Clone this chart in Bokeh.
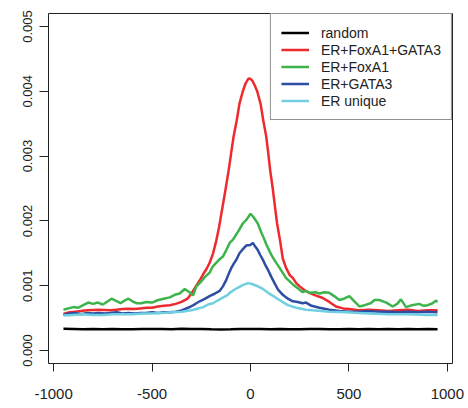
from bokeh.plotting import figure
from bokeh.models import Range1d, FixedTicker, Legend, LegendItem, NumeralTickFormatter
from bokeh.embed import file_html
from bokeh.resources import INLINE

# ---- data ----
x_ticks = [-1000, -500, 0, 500, 1000]
x_tick_labels = ["-1000", "-500", "0", "500", "1000"]
y_ticks = [0.0, 0.001, 0.002, 0.003, 0.004, 0.005]
y_tick_labels = ["0.000", "0.001", "0.002", "0.003", "0.004", "0.005"]

series_names = ["random", "ER+FoxA1+GATA3", "ER+FoxA1", "ER+GATA3", "ER unique"]

x_random = [-950, -900, -850, -800, -750, -700, -650, -600, -550, -500, -450, -400, -350, -300,
            -250, -200, -150, -100, -50, 0, 50, 100, 150, 200, 250, 300, 350, 400, 450, 500,
            550, 600, 650, 700, 750, 800, 850, 900, 950]
y_random = [0.000335, 0.000334, 0.000328, 0.000332, 0.000327, 0.000333, 0.000330, 0.000329,
            0.000334, 0.000331, 0.000333, 0.000330, 0.000335, 0.000332, 0.000333, 0.000328,
            0.000326, 0.000327, 0.000332, 0.000331, 0.000333, 0.000330, 0.000334, 0.000327,
            0.000329, 0.000333, 0.000332, 0.000328, 0.000330, 0.000333, 0.000329, 0.000331,
            0.000327, 0.000332, 0.000330, 0.000334, 0.000328, 0.000331, 0.000327]

x_fg = [-950, -920, -890, -860, -830, -800, -770, -740, -710, -680, -650, -620, -590, -560,
        -530, -500, -470, -440, -410, -380, -350, -320, -300, -275, -258, -240, -225, -208,
        -190, -175, -160, -143, -127, -111, -98, -86, -70, -56, -39, -25, -10, 0, 10, 20, 34,
        51, 65, 80, 90, 100, 113, 125, 135, 150, 164, 180, 200, 215, 232, 250, 275, 299, 330,
        367, 400, 434, 470, 500, 550, 600, 650, 700, 750, 800, 850, 900, 950]
y_fg = [0.000565, 0.00059, 0.0006, 0.00061, 0.00062, 0.000625, 0.00063, 0.000625, 0.00062,
        0.00063, 0.00064, 0.000645, 0.00064, 0.00065, 0.00066, 0.00066, 0.00068, 0.00069,
        0.0007, 0.00072, 0.00075, 0.0008, 0.00088, 0.001, 0.00108, 0.00118, 0.00125, 0.00135,
        0.0015, 0.00168, 0.0019, 0.0022, 0.00248, 0.00278, 0.00305, 0.0033, 0.00355, 0.00381,
        0.004, 0.00412, 0.0042, 0.00419, 0.00416, 0.0041, 0.004, 0.00381, 0.00355, 0.0033,
        0.00305, 0.00278, 0.0025, 0.0022, 0.00196, 0.0017, 0.00142, 0.00128, 0.00116, 0.00112,
        0.00104, 0.00099, 0.00093, 0.00089, 0.00085, 0.00081, 0.00075, 0.00068, 0.00065,
        0.00064, 0.00062, 0.00063, 0.00062, 0.00061, 0.00062, 0.00063, 0.00061, 0.00062,
        0.00062]

x_f = [-950, -925, -900, -875, -850, -824, -800, -775, -750, -730, -706, -685, -660, -640,
       -620, -600, -580, -554, -530, -500, -469, -440, -410, -385, -360, -334, -310, -292,
       -275, -258, -230, -208, -191, -160, -140, -123, -106, -89, -60, -39, -20, 0, 15, 37, 55,
       71, 80, 105, 125, 147, 180, 215, 240, 265, 282, 300, 330, 350, 375, 400, 425, 451, 475,
       502, 530, 553, 580, 610, 630, 654, 690, 722, 745, 764, 790, 820, 857, 880, 900, 925,
       941, 950]
y_f = [0.00063, 0.00065, 0.00067, 0.00066, 0.0007, 0.00074, 0.00072, 0.00074, 0.00071,
       0.00075, 0.0008, 0.00077, 0.00073, 0.00077, 0.0008, 0.00076, 0.00073, 0.00073, 0.00075,
       0.00074, 0.00078, 0.0008, 0.00082, 0.00086, 0.00088, 0.00095, 0.0009, 0.00085, 0.00099,
       0.00104, 0.00114, 0.0012, 0.0013, 0.0014, 0.00145, 0.00155, 0.00166, 0.00171, 0.00185,
       0.00196, 0.00202, 0.00211, 0.00206, 0.00196, 0.00182, 0.00171, 0.00164, 0.00148,
       0.00138, 0.00128, 0.00112, 0.00102, 0.00096, 0.0009, 0.00092, 0.00089, 0.0009, 0.00088,
       0.0009, 0.00089, 0.00084, 0.00078, 0.0008, 0.00084, 0.00075, 0.00068, 0.0007, 0.00073,
       0.00078, 0.00078, 0.00074, 0.00068, 0.00072, 0.00079, 0.00067, 0.0007, 0.00072,
       0.00069, 0.0007, 0.00073, 0.00077, 0.00075]

x_g = [-950, -920, -890, -860, -830, -800, -770, -740, -710, -680, -650, -620, -590, -560,
       -530, -500, -470, -440, -410, -380, -350, -317, -290, -275, -258, -230, -208, -180,
       -157, -140, -123, -110, -98, -85, -72, -56, -40, -22, 0, 12, 25, 37, 50, 63, 75, 88,
       105, 122, 140, 164, 190, 215, 240, 265, 282, 310, 350, 400, 451, 500, 550, 600, 650,
       700, 750, 800, 850, 900, 950]
y_g = [0.00055, 0.00057, 0.00058, 0.00056, 0.00058, 0.00057, 0.00058, 0.00057, 0.00058,
       0.00059, 0.00057, 0.00058, 0.00057, 0.00058, 0.00058, 0.00059, 0.00058, 0.00059,
       0.00059, 0.0006, 0.00062, 0.00066, 0.0007, 0.00073, 0.00076, 0.0008, 0.00084, 0.00088,
       0.00092, 0.00099, 0.00109, 0.00119, 0.00127, 0.00134, 0.0014, 0.0015, 0.00156, 0.00162,
       0.00163, 0.00166, 0.0016, 0.00155, 0.00147, 0.0014, 0.00132, 0.00125, 0.00114,
       0.00104, 0.00094, 0.00086, 0.0008, 0.00076, 0.00075, 0.00073, 0.00074, 0.00069,
       0.00066, 0.00063, 0.00061, 0.0006, 0.0006, 0.00061, 0.0006, 0.0006, 0.00059, 0.0006,
       0.00059, 0.0006, 0.00059]

x_u = [-950, -900, -850, -800, -750, -700, -650, -600, -550, -500, -450, -400, -350, -300,
       -275, -240, -216, -191, -150, -115, -106, -70, -40, -13, 4, 30, 63, 100, 147, 190, 232,
       282, 316, 400, 485, 550, 600, 700, 800, 900, 950]
y_u = [0.00054, 0.00055, 0.00056, 0.00055, 0.00055, 0.00056, 0.00056, 0.00056, 0.00057,
       0.00057, 0.00058, 0.00059, 0.0006, 0.00062, 0.00064, 0.00067, 0.00071, 0.00073,
       0.0008, 0.00086, 0.00089, 0.00096, 0.00101, 0.00104, 0.00103, 0.001, 0.00095, 0.00087,
       0.00078, 0.0007, 0.00066, 0.00063, 0.00062, 0.0006, 0.00059, 0.00058, 0.00057, 0.00056,
       0.00056, 0.00055, 0.00055]

colors = ["#000000", "#ee2a2e", "#3cb44b", "#2d4ea2", "#70cfe0"]

# ---- figure ----
p = figure(width=468, height=408, output_backend="svg", toolbar_location=None,
           x_range=Range1d(-1026, 1026), y_range=Range1d(-0.0002, 0.0052),
           min_border_left=48, min_border_right=16, min_border_top=13, min_border_bottom=45)
p.grid.visible = False
p.outline_line_color = "#222222"
p.outline_line_width = 1
p.background_fill_color = "white"
p.border_fill_color = "white"

series = [(x_random, y_random), (x_fg, y_fg), (x_f, y_f), (x_g, y_g), (x_u, y_u)]
renderers = []
for (xs, ys), c in zip(series, colors):
    r = p.line(xs, ys, line_color=c, line_width=2.5)
    renderers.append(r)

for ax in (p.xaxis[0], p.yaxis[0]):
    ax.axis_line_color = None
    ax.minor_tick_line_color = None
    ax.major_tick_line_color = "#222222"
    ax.major_tick_in = 0
    ax.major_label_text_font = "Liberation Sans"
    ax.major_label_text_color = "#222222"

p.xaxis.ticker = FixedTicker(ticks=x_ticks)
p.xaxis.major_label_overrides = dict(zip(x_ticks, x_tick_labels))
p.xaxis.major_tick_out = 8
p.xaxis.major_label_standoff = 17
p.xaxis.major_label_text_font_size = "15px"

p.yaxis.ticker = FixedTicker(ticks=y_ticks)
p.yaxis.formatter = NumeralTickFormatter(format="0.000")
p.yaxis.major_label_overrides = dict(zip(y_ticks, y_tick_labels))
p.yaxis.major_tick_out = 9
p.yaxis.major_label_standoff = 7
p.yaxis.major_label_orientation = "vertical"
p.yaxis.major_label_text_font_size = "13px"

legend = Legend(items=[LegendItem(label=n, renderers=[r]) for n, r in zip(series_names, renderers)],
                location="top_right", margin=0, padding=10, spacing=0,
                glyph_width=28, glyph_height=17, label_height=17, label_standoff=12,
                label_text_font="Liberation Sans", label_text_font_size="14px",
                label_text_color="#222222", border_line_color="#222222",
                border_line_width=1, background_fill_color="white", background_fill_alpha=1.0)
p.add_layout(legend)

open("out.html", "w").write(file_html(p, INLINE))
